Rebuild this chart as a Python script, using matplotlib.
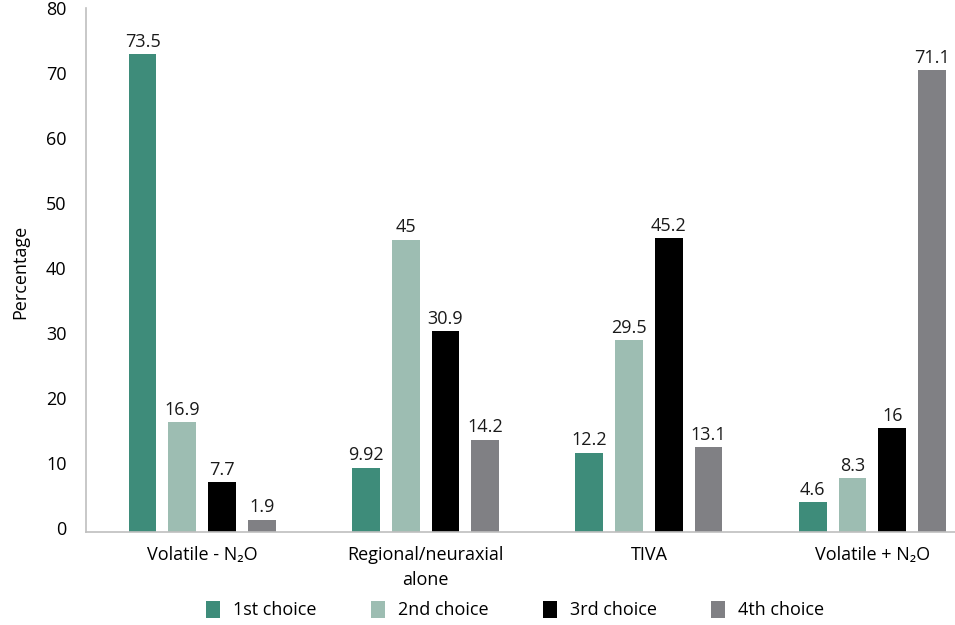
import matplotlib
matplotlib.use("Agg")
import matplotlib.pyplot as plt
import numpy as np
from matplotlib.patches import Patch
import matplotlib.transforms as mtransforms

plt.rcParams['font.family'] = ['Open Sans', 'DejaVu Sans']

categories = ["Volatile - N\u2082O", "Regional/neuraxial\nalone", "TIVA", "Volatile + N\u2082O"]
series_names = ["1st choice", "2nd choice", "3rd choice", "4th choice"]
first = [73.5, 9.92, 12.2, 4.6]
second = [16.9, 45, 29.5, 8.3]
third = [7.7, 30.9, 45.2, 16]
fourth = [1.9, 14.2, 13.1, 71.1]
labels = [["73.5", "9.92", "12.2", "4.6"],
          ["16.9", "45", "29.5", "8.3"],
          ["7.7", "30.9", "45.2", "16"],
          ["1.9", "14.2", "13.1", "71.1"]]
yticks = [0, 10, 20, 30, 40, 50, 60, 70, 80]

colors = ["#3E8C7A", "#9DBDB2", "#000000", "#808084"]
series = [first, second, third, fourth]

W, H = 955, 625
fig = plt.figure(figsize=(W / 100, H / 100), dpi=100)
left, right, top, bottom = 86, 984, 12, 532
ax = fig.add_axes([left / W, 1 - bottom / H, (right - left) / W, (bottom - top) / H])

x = np.arange(len(categories))
bw = 0.124
step = 0.178
for i, (vals, col) in enumerate(zip(series, colors)):
    pos = x + (i - 1.5) * step
    ax.bar(pos, vals, width=bw, color=col, label=series_names[i])
    for p, v, t in zip(pos, vals, labels[i]):
        ax.text(p, v + 0.5, t, ha='center', va='bottom', fontsize=13, color='#1a1a1a')

ax.set_xlim(-0.52, 3.5)
ax.set_ylim(0, 80)
ax.set_yticks(yticks)
ax.set_yticklabels([str(t) for t in yticks], fontsize=13)
ax.tick_params(axis='y', length=0, pad=14)
ax.tick_params(axis='x', length=0, pad=10)
ax.set_xticks(x)
ax.set_xticklabels(categories, fontsize=13, linespacing=1.5)
offset = mtransforms.ScaledTranslation(0, 4 / 100, fig.dpi_scale_trans)
for lbl in ax.get_yticklabels():
    lbl.set_transform(lbl.get_transform() + offset)
for s in ['top', 'right']:
    ax.spines[s].set_visible(False)
for s in ['left', 'bottom']:
    ax.spines[s].set_color('#bfbfbf')
    ax.spines[s].set_linewidth(1.2)
ax.spines['left'].set_bounds(0, 80.6)
ax.set_ylabel("Percentage", fontsize=13, labelpad=12)

handles = [Patch(facecolor=c, edgecolor='none') for c in colors]
fig.legend(handles, series_names, loc='center', bbox_to_anchor=(515 / W, 1 - 610 / H),
           ncol=4, frameon=False, fontsize=13, handlelength=0.8, handleheight=1.1,
           columnspacing=3.0, handletextpad=0.7)

fig.savefig("out.png", dpi=100)
